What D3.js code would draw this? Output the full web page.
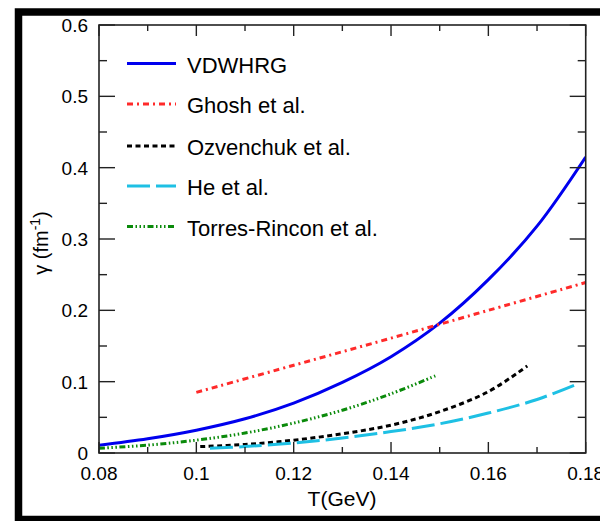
<!DOCTYPE html>
<html><head><meta charset="utf-8">
<script src="https://cdn.jsdelivr.net/npm/d3@7"></script>
<style>
html,body{margin:0;padding:0;background:#fff;overflow:hidden;}
text{font-family:"Liberation Sans",Arial,Helvetica,sans-serif;fill:#000;}
</style></head>
<body><svg id="c" width="600" height="521"></svg>
<script>
// ---- data ----
const seriesNames = ["VDWHRG","Ghosh et al.","Ozvenchuk et al.","He et al.","Torres-Rincon et al."];
const vdwhrgT = [0.08,0.09,0.10,0.11,0.12,0.13,0.14,0.15,0.16,0.17,0.18];
const vdwhrgG = [0.011,0.020,0.032,0.048,0.070,0.099,0.135,0.182,0.243,0.318,0.415];
const ghoshT = [0.10,0.12,0.14,0.16,0.18];
const ghoshG = [0.085,0.123,0.161,0.200,0.239];
const ozvT = [0.1008,0.11,0.12,0.13,0.14,0.15,0.16,0.168];
const ozvG = [0.009,0.012,0.018,0.027,0.039,0.058,0.086,0.122];
const heT = [0.1028,0.11,0.12,0.13,0.14,0.15,0.16,0.17,0.178];
const heG = [0.0066,0.009,0.014,0.021,0.030,0.041,0.056,0.075,0.096];
const torresT = [0.08,0.09,0.10,0.11,0.12,0.13,0.14,0.1494];
const torresG = [0.0066,0.011,0.018,0.028,0.042,0.060,0.083,0.109];
const xTickVals = [0.08,0.10,0.12,0.14,0.16,0.18];
const xTickLabels = ["0.08","0.1","0.12","0.14","0.16","0.18"];
const yTickVals = [0,0.1,0.2,0.3,0.4,0.5,0.6];
const yTickLabels = ["0","0.1","0.2","0.3","0.4","0.5","0.6"];

const svg = d3.select("#c");
const x = d3.scaleLinear().domain([0.08,0.18]).range([99,585.7]);
const y = d3.scaleLinear().domain([0,0.6]).range([453,25]);

// outer frame
svg.append("rect").attr("x",18.5).attr("y",12).attr("width",600).attr("height",507.5)
  .attr("fill","none").attr("stroke","#000").attr("stroke-width",7.5);

// clip
svg.append("defs").append("clipPath").attr("id","pc").append("rect")
  .attr("x",99).attr("y",25).attr("width",486.7).attr("height",428);

const series = [
  {T:vdwhrgT,G:vdwhrgG,color:"#0000ee",dash:null},
  {T:ghoshT,G:ghoshG,color:"#ff2a2a",dash:"6,4,2,4"},
  {T:ozvT,G:ozvG,color:"#000",dash:"5,3.5"},
  {T:heT,G:heG,color:"#1ec0e4",dash:"23,6"},
  {T:torresT,G:torresG,color:"#0a8a0a",dash:"6,2.5,1.5,2.5,1.5,2.5,1.5,2.5"}
];
const line = d3.line().x(d=>x(d[0])).y(d=>y(d[1])).curve(d3.curveCatmullRom.alpha(0.5));
const g = svg.append("g").attr("clip-path","url(#pc)");
series.forEach(s=>{
  g.append("path").attr("d",line(s.T.map((t,i)=>[t,s.G[i]])))
   .attr("fill","none").attr("stroke",s.color).attr("stroke-width",3)
   .attr("stroke-dasharray",s.dash);
});

// axes (ticks inward)
const axG = svg.append("g").attr("stroke","#222").attr("stroke-width",1.4);
const xMinor = d3.range(0.08,0.1801,0.01);
const yMinor = d3.range(0,0.601,0.05);
xMinor.forEach((v,i)=>{
  const maj = i%2===0, L = maj?11:6;
  axG.append("line").attr("x1",x(v)).attr("x2",x(v)).attr("y1",453).attr("y2",453-L);
  axG.append("line").attr("x1",x(v)).attr("x2",x(v)).attr("y1",25).attr("y2",25+L);
});
yMinor.forEach((v,i)=>{
  const maj = i%2===0, L = maj?16:8;
  axG.append("line").attr("x1",99).attr("x2",99+L).attr("y1",y(v)).attr("y2",y(v));
  axG.append("line").attr("x1",585.7).attr("x2",585.7-L).attr("y1",y(v)).attr("y2",y(v));
});
svg.append("rect").attr("x",99).attr("y",25).attr("width",486.7).attr("height",428)
  .attr("fill","none").attr("stroke","#222").attr("stroke-width",1.6);

// tick labels
xTickVals.forEach((v,i)=>{
  svg.append("text").attr("x",x(v)).attr("y",480).attr("text-anchor","middle")
    .attr("font-size",19).text(xTickLabels[i]);
});
yTickVals.forEach((v,i)=>{
  svg.append("text").attr("x",88).attr("y",y(v)+7).attr("text-anchor","end")
    .attr("font-size",19).text(yTickLabels[i]);
});

// axis titles
svg.append("text").attr("x",342).attr("y",506).attr("text-anchor","middle")
  .attr("font-size",21).text("T(GeV)");
const yl = svg.append("text").attr("transform","translate(48,243) rotate(-90)")
  .attr("text-anchor","middle").attr("font-size",20);
yl.append("tspan").text("γ (fm");
yl.append("tspan").attr("dy",-8).attr("font-size",14).text("-1");
yl.append("tspan").attr("dy",8).text(")");

// legend
const legY = [63.5,104,146,186,226.5];
series.forEach((s,i)=>{
  svg.append("line").attr("x1",127).attr("x2",176).attr("y1",legY[i]).attr("y2",legY[i])
    .attr("stroke",s.color).attr("stroke-width",3).attr("stroke-dasharray",s.dash);
  svg.append("text").attr("x",187).attr("y",legY[i]+9).attr("font-size",22).text(seriesNames[i]);
});
</script></body></html>
